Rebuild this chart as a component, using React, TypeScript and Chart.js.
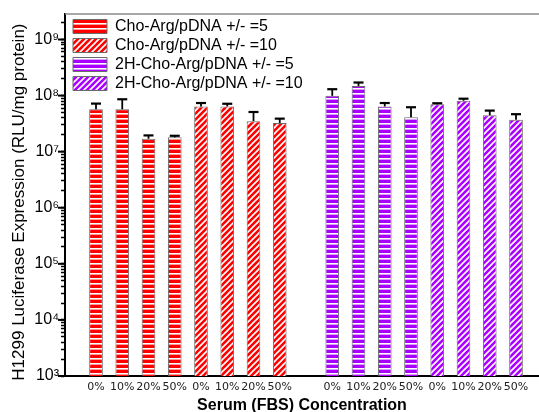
import React, { useEffect, useRef } from "react";
import { Chart, registerables } from "chart.js";
Chart.register(...registerables);

// x slots: 8 bars, one empty gap slot, 8 bars
const xLabels = ["0%", "10%", "20%", "50%", "0%", "10%", "20%", "50%", "", "0%", "10%", "20%", "50%", "0%", "10%", "20%", "50%"];
const seriesNames = [
  "Cho-Arg/pDNA +/- =5",
  "Cho-Arg/pDNA +/- =10",
  "2H-Cho-Arg/pDNA +/- =5",
  "2H-Cho-Arg/pDNA +/- =10",
];
const seriesSlots = [
  [0, 1, 2, 3],
  [4, 5, 6, 7],
  [9, 10, 11, 12],
  [13, 14, 15, 16],
];
const cho5 = [5.7e7, 5.7e7, 1.7e7, 1.8e7];
const cho5Err = [1.5e7, 2.9e7, 0.25e7, 0.12e7];
const cho10 = [6.4e7, 6.4e7, 3.5e7, 3.25e7];
const cho10Err = [0.97e7, 0.75e7, 1.6e7, 0.63e7];
const h2cho5 = [9.9e7, 1.49e8, 6.4e7, 4.1e7];
const h2cho5Err = [3.1e7, 2.2e7, 0.97e7, 2.1e7];
const h2cho10 = [7.0e7, 8.1e7, 4.45e7, 3.7e7];
const h2cho10Err = [0.3e7, 0.7e7, 0.95e7, 0.96e7];
const yTickLabels: Record<number, string> = {
  3: "10\u00B3",
  4: "10\u2074",
  5: "10\u2075",
  6: "10\u2076",
  7: "10\u2077",
  8: "10\u2078",
  9: "10\u2079",
};
const yMin = 1e3;
const yMax = 2.85e9;

const FONT = "Arial, 'Liberation Sans', Helvetica, sans-serif";
const TICK_FONT = "'DejaVu Sans', Verdana, sans-serif";
const RED = "#ff0000";
const PURPLE = "#aa00ff";

function makePattern(color: string, kind: "h" | "d"): CanvasPattern | string {
  const c = document.createElement("canvas");
  const ctx = c.getContext("2d");
  if (!ctx) return color;
  if (kind === "h") {
    c.width = 4;
    c.height = 5;
    ctx.fillStyle = color;
    ctx.fillRect(0, 0, 4, 5);
    ctx.fillStyle = "#ffffff";
    ctx.fillRect(0, 3, 4, 1.6);
  } else {
    c.width = 6;
    c.height = 6;
    ctx.fillStyle = color;
    ctx.fillRect(0, 0, 6, 6);
    ctx.strokeStyle = "#ffffff";
    ctx.lineWidth = 1.6;
    ctx.beginPath();
    ctx.moveTo(-1, 7);
    ctx.lineTo(7, -1);
    ctx.moveTo(-4, 4);
    ctx.lineTo(4, -4);
    ctx.moveTo(2, 10);
    ctx.lineTo(10, 2);
    ctx.stroke();
  }
  return ctx.createPattern(c, "repeat") || color;
}

const errorBarPlugin = {
  id: "errorBars",
  afterDatasetsDraw(chart: any) {
    const ctx = chart.ctx;
    const yScale = chart.scales.y;
    ctx.save();
    ctx.strokeStyle = "#000";
    chart.data.datasets.forEach((ds: any, i: number) => {
      const meta = chart.getDatasetMeta(i);
      meta.data.forEach((bar: any, j: number) => {
        const v = ds.data[j].y;
        const e = ds.errors[j];
        const yTop = yScale.getPixelForValue(v + e);
        ctx.lineWidth = 1.8;
        ctx.beginPath();
        ctx.moveTo(bar.x, bar.y);
        ctx.lineTo(bar.x, yTop);
        ctx.stroke();
        ctx.lineWidth = 2.2;
        ctx.beginPath();
        ctx.moveTo(bar.x - 5, yTop);
        ctx.lineTo(bar.x + 5, yTop);
        ctx.stroke();
      });
    });
    ctx.restore();
  },
};

const legendPlacePlugin = {
  id: "legendPlace",
  afterLayout(chart: any) {
    const lg = chart.legend;
    if (!lg) return;
    const ca = chart.chartArea;
    const w = lg.right - lg.left;
    const h = lg.bottom - lg.top;
    lg.left = ca.left + 5;
    lg.top = ca.top + 1.5;
    lg.right = lg.left + w;
    lg.bottom = lg.top + h;
  },
};

const framePlugin = {
  id: "frame",
  afterDraw(chart: any) {
    const { ctx, chartArea } = chart;
    const y = chart.scales.y;
    ctx.save();
    ctx.strokeStyle = "#8a8a8a";
    ctx.lineWidth = 1.5;
    ctx.beginPath();
    ctx.moveTo(chartArea.left, chartArea.top);
    ctx.lineTo(chartArea.right, chartArea.top);
    ctx.stroke();
    // longer major ticks
    ctx.strokeStyle = "#000";
    ctx.lineWidth = 2;
    y.ticks.forEach((t: any) => {
      const lgv = Math.log10(t.value);
      if (Math.abs(lgv - Math.round(lgv)) < 1e-9) {
        const py = y.getPixelForValue(t.value);
        ctx.beginPath();
        ctx.moveTo(chartArea.left - 7, py);
        ctx.lineTo(chartArea.left, py);
        ctx.stroke();
      }
    });
    ctx.restore();
  },
};

export default function App() {
  const ref = useRef<HTMLCanvasElement | null>(null);
  useEffect(() => {
    if (!ref.current) return;
    const values = [cho5, cho10, h2cho5, h2cho10];
    const errs = [cho5Err, cho10Err, h2cho5Err, h2cho10Err];
    const fills = [
      makePattern(RED, "h"),
      makePattern(RED, "d"),
      makePattern(PURPLE, "h"),
      makePattern(PURPLE, "d"),
    ];
    const datasets = seriesNames.map((name, i) => ({
      label: name,
      data: seriesSlots[i].map((s, j) => ({ x: s, y: values[i][j] })),
      errors: errs[i],
      backgroundColor: fills[i],
      borderColor: "#6a6a6a",
      borderWidth: 1,
      barPercentage: 0.52,
      categoryPercentage: 1,
      grouped: false,
    }));
    const chart = new Chart(ref.current, {
      type: "bar",
      data: { datasets } as any,
      plugins: [legendPlacePlugin, errorBarPlugin, framePlugin],
      options: {
        animation: false,
        responsive: false,
        maintainAspectRatio: false,
        layout: { padding: { top: 14, left: 0, right: 0, bottom: 0 } },
        plugins: {
          tooltip: { enabled: false },
          legend: {
            position: "chartArea" as any,
            align: "start",
            labels: {
              boxWidth: 34,
              boxHeight: 14,
              padding: 3,
              color: "#000",
              font: { size: 16, family: FONT },
            },
          },
        },
        scales: {
          x: {
            type: "linear",
            min: -1.181,
            max: 16.876,
            offset: false,
            afterBuildTicks: (scale: any) => {
              scale.ticks = xLabels
                .map((l, i) => (l ? { value: i } : null))
                .filter((t) => t !== null);
            },
            afterFit: (scale: any) => {
              scale.height = 36;
            },
            grid: { display: false, drawTicks: false },
            border: { display: true, color: "#000", width: 2 },
            ticks: {
              autoSkip: false,
              maxRotation: 0,
              padding: 5,
              color: "#222",
              font: { size: 11, family: TICK_FONT },
              callback: (v: any) => xLabels[Math.round(Number(v))] ?? "",
            },
            title: {
              display: true,
              text: "Serum (FBS) Concentration",
              color: "#000",
              font: { size: 16, weight: "bold", family: FONT },
              padding: { top: 0, bottom: -3 },
            },
          },
          y: {
            type: "logarithmic",
            min: yMin,
            max: yMax,
            afterBuildTicks: (scale: any) => {
              const ticks: any[] = [];
              for (let p = 3; p <= 9; p++) {
                for (let m = 1; m <= 9; m++) {
                  const v = m * Math.pow(10, p);
                  if (v >= yMin && v <= yMax) ticks.push({ value: v });
                }
              }
              scale.ticks = ticks;
            },
            afterFit: (scale: any) => {
              scale.width = 65;
            },
            grid: {
              display: true,
              drawOnChartArea: false,
              drawTicks: true,
              tickLength: 4,
              tickColor: "#000",
              tickWidth: 1.5,
            },
            border: { display: true, color: "#000", width: 2 },
            ticks: {
              autoSkip: false,
              padding: 2,
              color: "#000",
              font: { size: 16, family: FONT },
              callback: (v: any) => {
                const lgv = Math.log10(Number(v));
                const r = Math.round(lgv);
                return Math.abs(lgv - r) < 1e-9 ? yTickLabels[r] ?? "" : "";
              },
            },
            title: {
              display: true,
              text: "H1299 Luciferase Expression (RLU/mg protein)\u00A0\u00A0\u00A0",
              color: "#000",
              font: { size: 17, family: FONT },
              padding: { top: 9, bottom: 2 },
            },
          },
        },
      } as any,
    });
    return () => chart.destroy();
  }, []);
  return (
    <div style={{ position: "fixed", left: 0, top: 0, width: 539, height: 412, background: "#fff" }}>
      <canvas ref={ref} width={539} height={412} style={{ display: "block" }} />
    </div>
  );
}
